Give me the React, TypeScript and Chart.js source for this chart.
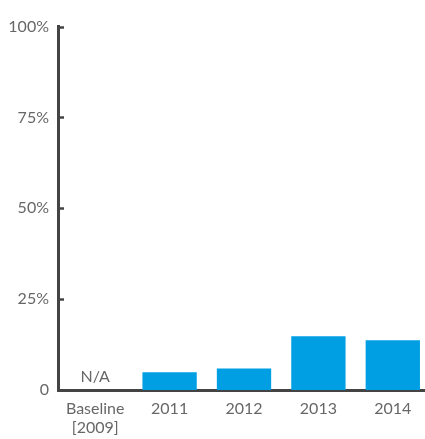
import React, { useEffect, useRef } from "react";
import { Chart, registerables } from "chart.js";

Chart.register(...registerables);

const categories: (string | string[])[] = [["Baseline", "[2009]"], "2011", "2012", "2013", "2014"];
const values: (number | null)[] = [null, 4.9, 5.9, 14.8, 13.7];
const yTicks: number[] = [0, 25, 50, 75, 100];
const naLabel = "N/A";

const FONT = "Lato, 'Open Sans', sans-serif";
const TEXT = "#676767";
const AXIS = "#444444";
const BAR = "#009FE3";

export default function App() {
  const ref = useRef<HTMLCanvasElement | null>(null);
  useEffect(() => {
    if (!ref.current) return;
    const innerTicks = {
      id: "innerTicks",
      afterDraw(chart: any) {
        const { ctx, chartArea, scales } = chart;
        const y = scales.y;
        const x = scales.x;
        ctx.save();
        ctx.strokeStyle = AXIS;
        ctx.lineWidth = 2.5;
        yTicks.forEach((t) => {
          if (t === 0) return;
          const py = Math.round(y.getPixelForValue(t)) + 0.5;
          ctx.beginPath();
          ctx.moveTo(chartArea.left, py);
          ctx.lineTo(chartArea.left + 6, py);
          ctx.stroke();
        });
        values.forEach((v, i) => {
          if (v === null) {
            ctx.fillStyle = TEXT;
            ctx.font = `400 16px ${FONT}`;
            ctx.textAlign = "center";
            ctx.textBaseline = "alphabetic";
            ctx.fillText(naLabel, x.getPixelForValue(i), chartArea.bottom - 8);
          }
        });
        ctx.restore();
      },
    };
    const chart = new Chart(ref.current, {
      type: "bar",
      data: {
        labels: categories,
        datasets: [
          {
            data: values,
            backgroundColor: BAR,
            barPercentage: 0.73,
            categoryPercentage: 1,
          },
        ],
      },
      options: {
        animation: false,
        responsive: true,
        maintainAspectRatio: false,
        layout: { padding: { top: 11, right: 0, left: 0, bottom: 0 } },
        plugins: { legend: { display: false }, tooltip: { enabled: false } },
        scales: {
          x: {
            grid: { display: false, drawTicks: false },
            border: { display: true, color: AXIS, width: 3 },
            ticks: {
              color: TEXT,
              font: { family: FONT, size: 16, weight: "400", lineHeight: 1.2 },
              padding: 9,
              maxRotation: 0,
              autoSkip: false,
            },
            afterFit: (s: any) => {
              s.height = 49;
            },
          },
          y: {
            min: 0,
            max: 100,
            grid: { display: false, drawTicks: false },
            border: { display: true, color: AXIS, width: 3 },
            ticks: {
              stepSize: 25,
              color: TEXT,
              font: { family: FONT, size: 16, weight: "400" },
              padding: 9,
              callback: (v: any) => (v === 0 ? "0" : v + "%"),
            },
            afterFit: (s: any) => {
              s.width = 50;
            },
          },
        },
      },
      plugins: [innerTicks],
    });
    return () => chart.destroy();
  }, []);
  return (
    <div style={{ position: "fixed", left: 8, top: 8, width: 422, height: 431 }}>
      <canvas ref={ref} />
    </div>
  );
}
